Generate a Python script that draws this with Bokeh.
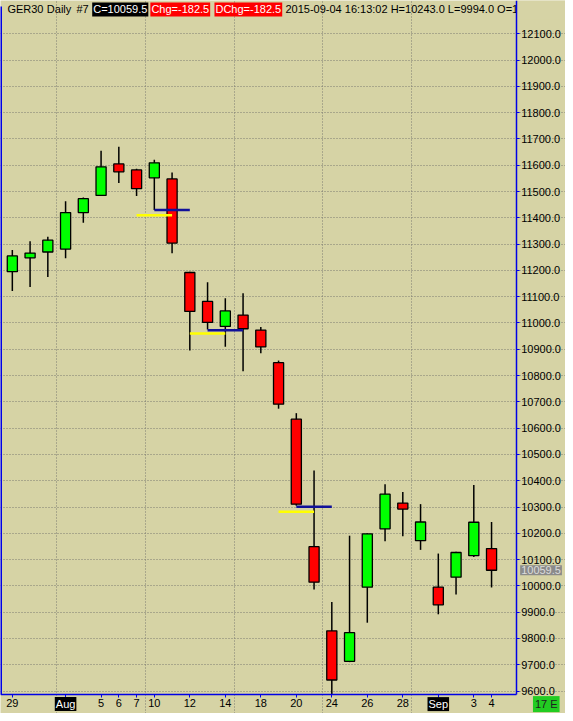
from datetime import datetime
from bokeh.plotting import figure
from bokeh.models import FixedTicker, PrintfTickFormatter, Range1d, Label
from bokeh.core.properties import value
from bokeh.embed import file_html
from bokeh.resources import INLINE

# ---------------- data ----------------
dates = ["Jul 29", "Jul 30", "Jul 31", "Aug 3", "Aug 4", "Aug 5", "Aug 6", "Aug 7",
         "Aug 10", "Aug 11", "Aug 12", "Aug 13", "Aug 14", "Aug 17", "Aug 18", "Aug 19",
         "Aug 20", "Aug 21", "Aug 24", "Aug 25", "Aug 26", "Aug 27", "Aug 28", "Aug 31",
         "Sep 1", "Sep 2", "Sep 3", "Sep 4"]
opens = [11195, 11248, 11270, 11281, 11420, 11485, 11605, 11582, 11552, 11548, 11192, 11082,
         10987, 11030, 10973, 10849, 10634, 10149, 9829, 9713, 9995, 10217, 10315, 10172,
         9995, 10033, 10115, 10142]
highs = [11278, 11311, 11328, 11463, 11477, 11655, 11670, 11587, 11621, 11572, 11195, 11155,
         11094, 11113, 10985, 10857, 10657, 10439, 9939, 10191, 10200, 10387, 10357, 10311,
         10123, 10130, 10384, 10243]
lows = [11122, 11137, 11175, 11246, 11381, 11483, 11532, 11483, 11430, 11265, 10895, 10975,
        10910, 10816, 10885, 10674, 10305, 9986, 9338, 9710, 9860, 10170, 10189, 10137,
        9892, 9967, 10110, 9994]
closes = [11255, 11266, 11315, 11420, 11473, 11594, 11575, 11511, 11609, 11304, 11044, 11002,
          11046, 10978, 10909, 10691, 10311, 10014, 9642, 9822, 10198, 10349, 10292, 10243,
          9928, 10127, 10242, 10059.5]

tick_dates = ["Jul 29", "Aug 3", "Aug 5", "Aug 6", "Aug 7", "Aug 10", "Aug 12", "Aug 14",
              "Aug 18", "Aug 20", "Aug 24", "Aug 26", "Aug 28", "Sep 1", "Sep 3", "Sep 4"]
tick_labels = ["29", "Aug", "5", "6", "7", "10", "12", "14", "18", "20", "24", "26", "28",
               "Sep", "3", "4"]
month_labels = ["Aug", "Sep"]
price_ticks = [9600, 9700, 9800, 9900, 10000, 10100, 10200, 10300, 10400, 10500, 10600,
               10700, 10800, 10900, 11000, 11100, 11200, 11300, 11400, 11500, 11600, 11700,
               11800, 11900, 12000, 12100]

yellow_from = ["Aug 7", "Aug 12", "Aug 19"]
yellow_to = ["Aug 11", "Aug 14", "Aug 21"]
yellow_level = [11410, 10960, 10282]
blue_from = ["Aug 10", "Aug 13", "Aug 20"]
blue_to = ["Aug 12", "Aug 17", "Aug 24"]
blue_level = [11430, 10972, 10301]

last_close = 10059.5
header_plain = ["GER30", "Daily", "#7"]
header_boxed = ["C=10059.5", "Chg=-182.5", "DChg=-182.5"]
header_boxed_bg = ["black", "#ff0000", "#ff0000"]
header_info = "2015-09-04 16:13:02 H=10243.0 L=9994.0 O=10142.0"
corner_text = "17 E"

# ---------------- layout (reference pixel geometry) ----------------
W, H = 565, 713            # figure size (reference is 573 x 721)
REF_W, REF_H = 573.0, 721.0
BAR_PX = 18.0              # bar spacing in reference pixels
FIRST_BAR_PX = 12.0
PRICE_AXIS_PX = 523.0      # x of the price axis line
TIME_AXIS_PX = 701.7       # y of the time axis line
PX_PER_POINT = 0.26586
REF_Y_11700 = 140.0

BG = "#d6d3a5"
UP, DOWN = "#00ff00", "#ff0000"
AXIS_BLUE = "#0000e6"
GRID = "#7d7b70"
FONT = "Liberation Sans"

x_start = -FIRST_BAR_PX / BAR_PX
x_end = x_start + REF_W / BAR_PX
y_end = 11700 + REF_Y_11700 / PX_PER_POINT
y_start = y_end - REF_H / PX_PER_POINT

def xd(px):
    return x_start + px * (x_end - x_start) / REF_W

def yd(py):
    return y_end - py * (y_end - y_start) / REF_H

price_axis_x = xd(PRICE_AXIS_PX)
time_axis_y = yd(TIME_AXIS_PX)

idx = list(range(len(dates)))

p = figure(width=W, height=H, output_backend="svg", toolbar_location=None,
           x_range=Range1d(x_start, x_end), y_range=Range1d(y_start, y_end),
           y_axis_location="right", min_border_left=0, min_border_top=0,
           min_border_right=0, min_border_bottom=0,
           background_fill_color=BG, border_fill_color=BG, outline_line_color=None)

# grids
parsed = [datetime.strptime(d + " 2015", "%b %d %Y") for d in dates]
week_seps = [i - 0.5 for i in range(1, len(parsed)) if parsed[i].weekday() < parsed[i - 1].weekday()]
p.ygrid.ticker = FixedTicker(ticks=price_ticks)
p.ygrid.bounds = (x_start, price_axis_x)
p.xgrid.ticker = FixedTicker(ticks=week_seps)
p.xgrid.bounds = (time_axis_y, y_end)
for g in (p.xgrid, p.ygrid):
    g.grid_line_color = GRID
    g.grid_line_dash = "1 2"
    g.grid_line_width = 1

# price axis (right)
yax = p.yaxis[0]
yax.fixed_location = price_axis_x
yax.bounds = (time_axis_y, y_end)
yax.ticker = FixedTicker(ticks=price_ticks)
yax.formatter = PrintfTickFormatter(format="%.1f")
yax.axis_line_color = AXIS_BLUE
yax.axis_line_width = 1.5
yax.major_tick_line_color = AXIS_BLUE
yax.major_tick_out = 3
yax.major_tick_in = 0
yax.minor_tick_line_color = None
yax.major_label_standoff = 2
yax.major_label_text_font = FONT
yax.major_label_text_font_size = "11px"
yax.major_label_text_color = "black"

# time axis (bottom)
xax = p.xaxis[0]
xax.fixed_location = time_axis_y
xax.bounds = (x_start, price_axis_x)
tick_idx = [dates.index(d) for d in tick_dates]
xax.ticker = FixedTicker(ticks=tick_idx)
xax.major_label_overrides = {i: ("" if lab in month_labels else lab) for i, lab in zip(tick_idx, tick_labels)}
xax.axis_line_color = AXIS_BLUE
xax.axis_line_width = 1.5
xax.major_tick_line_color = AXIS_BLUE
xax.major_tick_out = 3
xax.major_tick_in = 0
xax.minor_tick_line_color = None
xax.major_label_standoff = 2
xax.major_label_text_font = FONT
xax.major_label_text_font_size = "11px"
xax.major_label_text_color = "black"

# left border of the price area
p.segment(x0=[x_start], x1=[x_start], y0=[time_axis_y], y1=[yd(6)],
          line_color=AXIS_BLUE, line_width=3)

# candles (the chart area ends at the time axis)
colors = [UP if c >= o else DOWN for o, c in zip(opens, closes)]
shown_lows = [max(l, time_axis_y) for l in lows]
p.segment(x0=idx, y0=shown_lows, x1=idx, y1=highs, line_color="black", line_width=1.5)
p.vbar(x=idx, width=0.57, top=[max(o, c) for o, c in zip(opens, closes)],
       bottom=[min(o, c) for o, c in zip(opens, closes)],
       fill_color=colors, line_color="black", line_width=1.3)

# level lines
p.segment(x0=[dates.index(d) for d in yellow_from], x1=[dates.index(d) for d in yellow_to],
          y0=yellow_level, y1=yellow_level, line_color="#ffff00", line_width=2.5)
p.segment(x0=[dates.index(d) for d in blue_from], x1=[dates.index(d) for d in blue_to],
          y0=blue_level, y1=blue_level, line_color="#10109a", line_width=2.5)

# header line
hy = yd(9)
p.text(x=[xd(v) for v in [7, 47, 77]], y=[hy] * 3, text=header_plain,
       text_color="black", text_font=value(FONT), text_font_size="11px",
       text_baseline="middle", text_align="left")
p.text(x=[xd(v) for v in [93, 152, 217]], y=[hy] * 3, text=header_boxed,
       text_color="white", background_fill_color=header_boxed_bg, padding=1,
       text_font=value(FONT), text_font_size="11px",
       text_baseline="middle", text_align="left")
p.text(x=[xd(289)], y=[hy], text=[header_info], text_color="black",
       text_font=value(FONT), text_font_size="11px",
       text_baseline="middle", text_align="left")
# the header is cut at the price axis, as in the original window
p.quad(left=[price_axis_x], right=[x_end], bottom=[yd(19)], top=[y_end],
       fill_color=BG, line_color=None)

# month labels on the time axis
for m in month_labels:
    lab_i = tick_idx[tick_labels.index(m)]
    p.add_layout(Label(x=lab_i, y=yd(711.5), text=m, text_color="white",
                       background_fill_color="black", text_font=FONT,
                       text_font_size="11px", text_align="center",
                       text_baseline="middle", padding=1))

# last price box on the price axis
p.add_layout(Label(x=xd(527), y=last_close, text=f"{last_close:.1f}", text_color="#dcdcdc",
                   background_fill_color="#8a8a8a", text_font=FONT, text_font_size="11px",
                   text_align="left", text_baseline="middle", padding=1))

# corner box
p.add_layout(Label(x=xd(540), y=yd(711.5), text=corner_text, text_color="#202020",
                   background_fill_color="#22cc22", text_font=FONT,
                   text_font_size="11px", text_align="left", text_baseline="middle",
                   padding=2))

open("out.html", "w").write(file_html(p, INLINE))
